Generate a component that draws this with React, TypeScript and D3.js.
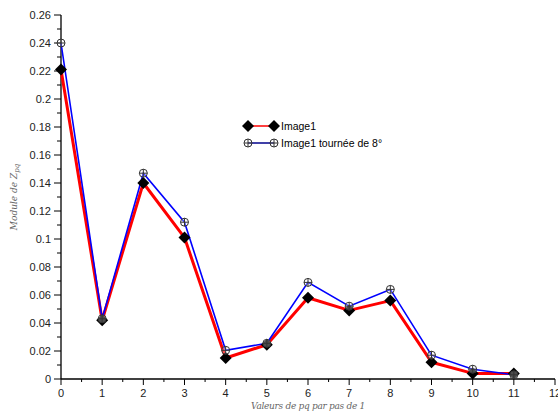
import * as d3 from "d3";

const pq = [0, 1, 2, 3, 4, 5, 6, 7, 8, 9, 10, 11];
const image1 = [0.221, 0.042, 0.14, 0.101, 0.015, 0.0245, 0.058, 0.049, 0.056, 0.012, 0.004, 0.004];
const image1Rot = [0.24, 0.043, 0.147, 0.112, 0.0205, 0.0255, 0.069, 0.052, 0.064, 0.017, 0.007, 0.003];
const xTicks = d3.range(0, 13, 1);
const xMinor = d3.range(0.5, 12, 1);
const yTicks = d3.range(0, 0.2601, 0.02);
const yMinor = d3.range(0.01, 0.26, 0.02);

const W = 558;
const H = 414;
const left = 61;
const right = 555;
const top = 15;
const bottom = 379;

export default function App() {
  const x = d3.scaleLinear().domain([0, 12]).range([left, right]);
  const y = d3.scaleLinear().domain([0, 0.26]).range([bottom, top]);

  const line = d3
    .line<number>()
    .x((_, i) => x(pq[i]))
    .y((v) => y(v));

  const diamond = (cx: number, cy: number, r = 6) =>
    `M${cx},${cy - r}L${cx + r},${cy}L${cx},${cy + r}L${cx - r},${cy}Z`;

  const crossCircle = (cx: number, cy: number, key: string | number) => (
    <g key={key} stroke="#333" strokeWidth={1} fill="none">
      <circle cx={cx} cy={cy} r={4} fill="rgba(255,255,255,0.3)" />
      <line x1={cx - 4} x2={cx + 4} y1={cy} y2={cy} />
      <line x1={cx} x2={cx} y1={cy - 4} y2={cy + 4} />
    </g>
  );

  const tickFont = { fontFamily: "Liberation Sans, Arial, sans-serif", fontSize: 11, fill: "#222" };

  return (
    <svg width={W} height={H} style={{ position: "absolute", left: 0, top: 0 }}>
      <rect width={W} height={H} fill="#fff" />

      {/* axes */}
      <line x1={left} x2={left} y1={top} y2={bottom} stroke="#000" strokeWidth={1.3} />
      <line x1={left} x2={right} y1={bottom} y2={bottom} stroke="#000" strokeWidth={1.3} />

      {yTicks.map((t) => (
        <g key={"y" + t}>
          <line x1={left - 7} x2={left} y1={y(t)} y2={y(t)} stroke="#000" strokeWidth={1} />
          <text x={left - 10} y={y(t) + 4} textAnchor="end" {...tickFont}>
            {d3.format("~g")(+t.toFixed(2))}
          </text>
        </g>
      ))}
      {yMinor.map((t) => (
        <line key={"ym" + t} x1={left - 4} x2={left} y1={y(t)} y2={y(t)} stroke="#000" strokeWidth={1} />
      ))}
      {xTicks.map((t) => (
        <g key={"x" + t}>
          <line x1={x(t)} x2={x(t)} y1={bottom} y2={bottom + 6} stroke="#000" strokeWidth={1} />
          <text x={x(t)} y={bottom + 18} textAnchor="middle" {...tickFont}>
            {t}
          </text>
        </g>
      ))}
      {xMinor.map((t) => (
        <line key={"xm" + t} x1={x(t)} x2={x(t)} y1={bottom} y2={bottom + 3} stroke="#000" strokeWidth={1} />
      ))}

      {/* axis labels */}
      <text
        x={(left + right) / 2}
        y={409}
        textAnchor="middle"
        fontFamily="DejaVu Serif, serif"
        fontStyle="italic"
        fontSize={9}
        fill="#666"
        letterSpacing={-0.3}
      >
        Valeurs de pq par pas de 1
      </text>
      <text
        transform={`translate(17,${(top + bottom) / 2}) rotate(-90)`}
        textAnchor="middle"
        fontFamily="DejaVu Serif, serif"
        fontStyle="italic"
        fontSize={9}
        fill="#666"
      >
        Module de Z
        <tspan fontSize={7} dy={2}>pq</tspan>
      </text>

      {/* series */}
      <path d={line(image1) ?? ""} fill="none" stroke="#ff0000" strokeWidth={3} strokeLinejoin="round" />
      <path d={line(image1Rot) ?? ""} fill="none" stroke="#0000ff" strokeWidth={1.6} />
      {image1.map((v, i) => (
        <path key={"d" + i} d={diamond(x(pq[i]), y(v))} fill="#000" />
      ))}
      {image1Rot.map((v, i) => crossCircle(x(pq[i]), y(v), "c" + i))}

      {/* legend */}
      <g>
        <line x1={248} x2={274} y1={126} y2={126} stroke="#ff0000" strokeWidth={1.5} />
        <path d={diamond(248, 126)} fill="#000" />
        <path d={diamond(274, 126)} fill="#000" />
        <text x={281} y={130} fontFamily="Liberation Sans, Arial, sans-serif" fontSize={10.5} fill="#000">
          Image1
        </text>
        <line x1={248} x2={274} y1={143} y2={143} stroke="#00008b" strokeWidth={1.5} />
        {crossCircle(248, 143, "l1")}
        {crossCircle(274, 143, "l2")}
        <text x={281} y={147} fontFamily="Liberation Sans, Arial, sans-serif" fontSize={10.5} fill="#000">
          Image1 tournée de 8°
        </text>
      </g>
    </svg>
  );
}
